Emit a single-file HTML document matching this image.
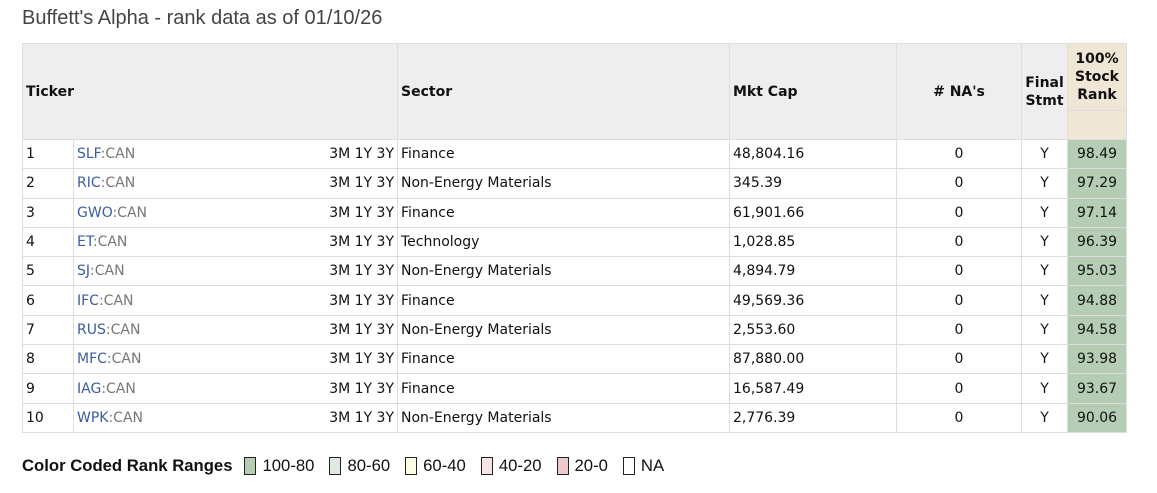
<!DOCTYPE html>
<html><head><style>
body{margin:0;width:1157px;height:493px;background:#fff;font-family:"DejaVu Sans",Verdana,sans-serif;position:relative;overflow:hidden}
.title{position:absolute;left:22px;top:7px;font-family:"Liberation Sans",sans-serif;font-size:20px;color:#444}
table{position:absolute;left:22px;top:43px;border-collapse:collapse;table-layout:fixed;font-size:14px;color:#111}
td,th{border:1px solid #ddd;padding:0 3px;white-space:nowrap;overflow:hidden}
thead th{background:#eee;font-size:14px;font-weight:bold;text-align:left;height:95px;padding-top:0;padding-bottom:0}
tbody td{height:28.3px}
.c{text-align:center}.r{text-align:right}
.rk{background:#b5cdb5;text-align:center}
.tk{color:#3a5da0}.ex{color:#777}
.leg{position:absolute;left:22px;top:456px;font-family:"Liberation Sans",sans-serif;font-size:16.7px;color:#111;display:flex;align-items:center}
.sw{display:inline-block;width:10px;height:16px;border:1px solid #222;margin:0 6px 0 0;vertical-align:middle}
.leg span.t{margin-right:15px}
</style></head><body>
<div class="title">Buffett's Alpha - rank data as of 01/10/26</div>
<table>
<colgroup><col style="width:51px"><col style="width:324px"><col style="width:332px"><col style="width:167px"><col style="width:125px"><col style="width:46px"><col style="width:59px"></colgroup>
<thead><tr><th colspan="2">Ticker</th><th>Sector</th><th>Mkt Cap</th><th class="c">#&nbsp;NA's</th><th class="c" style="line-height:18px;padding:0">Final<br>Stmt</th><th class="c" style="background:#efe6d5;vertical-align:top;padding:0;line-height:18px"><div style="padding-top:6px;box-sizing:border-box;height:66px">100%<br>Stock<br>Rank</div><div style="border-top:1px solid #ddd;height:28px"></div></th></tr></thead>
<tbody>
<tr><td>1</td><td><span class="tk">SLF</span><span class="ex">:CAN</span><span style="float:right">3M 1Y 3Y</span></td><td>Finance</td><td>48,804.16</td><td class="c">0</td><td class="c">Y</td><td class="rk">98.49</td></tr>
<tr><td>2</td><td><span class="tk">RIC</span><span class="ex">:CAN</span><span style="float:right">3M 1Y 3Y</span></td><td>Non-Energy Materials</td><td>345.39</td><td class="c">0</td><td class="c">Y</td><td class="rk">97.29</td></tr>
<tr><td>3</td><td><span class="tk">GWO</span><span class="ex">:CAN</span><span style="float:right">3M 1Y 3Y</span></td><td>Finance</td><td>61,901.66</td><td class="c">0</td><td class="c">Y</td><td class="rk">97.14</td></tr>
<tr><td>4</td><td><span class="tk">ET</span><span class="ex">:CAN</span><span style="float:right">3M 1Y 3Y</span></td><td>Technology</td><td>1,028.85</td><td class="c">0</td><td class="c">Y</td><td class="rk">96.39</td></tr>
<tr><td>5</td><td><span class="tk">SJ</span><span class="ex">:CAN</span><span style="float:right">3M 1Y 3Y</span></td><td>Non-Energy Materials</td><td>4,894.79</td><td class="c">0</td><td class="c">Y</td><td class="rk">95.03</td></tr>
<tr><td>6</td><td><span class="tk">IFC</span><span class="ex">:CAN</span><span style="float:right">3M 1Y 3Y</span></td><td>Finance</td><td>49,569.36</td><td class="c">0</td><td class="c">Y</td><td class="rk">94.88</td></tr>
<tr><td>7</td><td><span class="tk">RUS</span><span class="ex">:CAN</span><span style="float:right">3M 1Y 3Y</span></td><td>Non-Energy Materials</td><td>2,553.60</td><td class="c">0</td><td class="c">Y</td><td class="rk">94.58</td></tr>
<tr><td>8</td><td><span class="tk">MFC</span><span class="ex">:CAN</span><span style="float:right">3M 1Y 3Y</span></td><td>Finance</td><td>87,880.00</td><td class="c">0</td><td class="c">Y</td><td class="rk">93.98</td></tr>
<tr><td>9</td><td><span class="tk">IAG</span><span class="ex">:CAN</span><span style="float:right">3M 1Y 3Y</span></td><td>Finance</td><td>16,587.49</td><td class="c">0</td><td class="c">Y</td><td class="rk">93.67</td></tr>
<tr><td>10</td><td><span class="tk">WPK</span><span class="ex">:CAN</span><span style="float:right">3M 1Y 3Y</span></td><td>Non-Energy Materials</td><td>2,776.39</td><td class="c">0</td><td class="c">Y</td><td class="rk">90.06</td></tr>
</tbody></table>
<div class="leg"><b style="margin-right:12px">Color Coded Rank Ranges</b>
<span class="sw" style="background:#b5cdb5"></span><span class="t">100-80</span>
<span class="sw" style="background:#dfe9df"></span><span class="t">80-60</span>
<span class="sw" style="background:#fdfde6"></span><span class="t">60-40</span>
<span class="sw" style="background:#f7e4e4"></span><span class="t">40-20</span>
<span class="sw" style="background:#eec9c9"></span><span class="t">20-0</span>
<span class="sw" style="background:#fff"></span><span class="t">NA</span></div>
</body></html>
